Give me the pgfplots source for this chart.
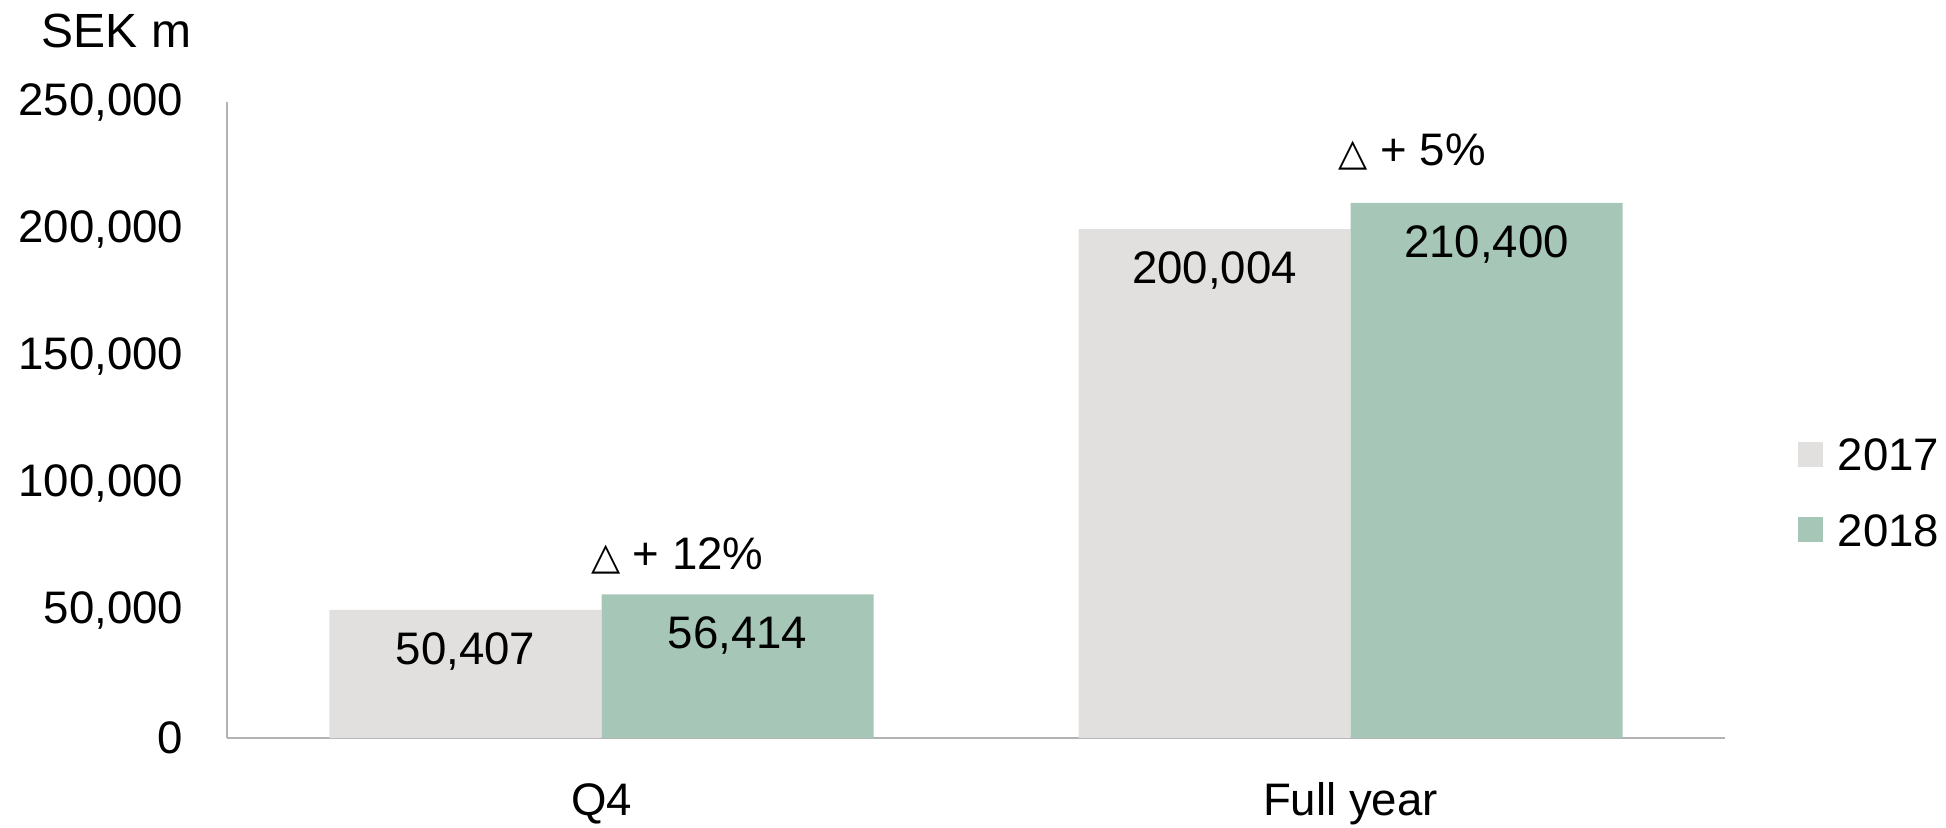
\documentclass[border=0pt]{standalone}
\usepackage{fontspec}
\setmainfont{Liberation Sans}
\newfontfamily\dejavu{DejaVu Sans}
\usepackage{pgfplots}
\pgfplotsset{compat=1.18}
\definecolor{barGray}{HTML}{E1E0DE}
\definecolor{barGreen}{HTML}{A6C7B8}
\definecolor{axisGray}{HTML}{B3B3B3}
\newcommand{\tri}{{\dejavu\fontsize{9.5}{10}\selectfont △}}
\begin{document}
\fontsize{11.4}{13.7}\selectfont
\begin{tikzpicture}
\path[use as bounding box] (-56.75pt,-22.25pt) rectangle (429.75pt,184.5pt);
\begin{axis}[
  at={(0,0)}, anchor=south west,
  scale only axis,
  width=374.5pt, height=159pt,
  xmin=-0.5, xmax=1.5,
  ymin=0, ymax=250000,
  ybar=0pt,
  bar width=68pt,
  axis x line*=bottom, axis y line*=left,
  axis line style={draw=axisGray, line width=0.5pt},
  major tick length=0pt,
  tick style={draw=none},
  scaled y ticks=false,
  xtick={0,1}, xticklabels={Q4, Full year},
  ytick={0,50000,100000,150000,200000,250000},
  yticklabels={0,{50,000},{100,000},{150,000},{200,000},{250,000}},
  yticklabel style={anchor=east, inner sep=0pt, xshift=-10.75pt},
  xticklabel style={anchor=base, inner sep=0pt, yshift=-19.25pt},
  ticklabel style={font=\fontsize{11.4}{13.7}\selectfont},
  /pgf/number format/fixed,
  /pgf/number format/precision=0,
  /pgf/number format/1000 sep={,},
  /pgf/number format/assume math mode=true,
  nodes near coords,
  every node near coord/.append style={anchor=base, yshift=-13.6pt, text=black, inner sep=0pt, font=\fontsize{11.4}{13.7}\selectfont},
  clip=false,
]
\addplot[fill=barGray, draw=none] coordinates {(0,50407) (1,200004)};
\addplot[fill=barGreen, draw=none] coordinates {(0,56414) (1,210400)};
\node[anchor=base west, inner sep=0pt] at (axis cs:-0.015,66300) {\tri\ + 12\%};
\node[anchor=base west, inner sep=0pt] at (axis cs:0.983,224900) {\tri\ + 5\%};
\end{axis}
\node[anchor=base west, inner sep=0pt, font=\fontsize{12}{14}\selectfont] at (-46.5pt,172.5pt) {SEK m};
\fill[barGray] (392.75pt,67.775pt) rectangle (399pt,74.025pt);
\fill[barGreen] (392.75pt,48.975pt) rectangle (399pt,55.225pt);
\node[anchor=base west, inner sep=0pt] at (402.5pt,66.8pt) {2017};
\node[anchor=base west, inner sep=0pt] at (402.5pt,48.0pt) {2018};
\end{tikzpicture}
\end{document}
